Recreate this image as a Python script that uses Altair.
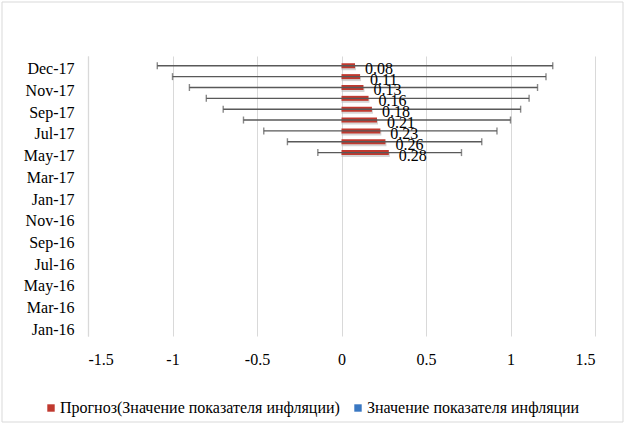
import json
import altair as alt
import pandas as pd

# ---- data ----
all_months = ["Jan-16", "Feb-16", "Mar-16", "Apr-16", "May-16", "Jun-16", "Jul-16", "Aug-16",
              "Sep-16", "Oct-16", "Nov-16", "Dec-16", "Jan-17", "Feb-17", "Mar-17", "Apr-17",
              "May-17", "Jun-17", "Jul-17", "Aug-17", "Sep-17", "Oct-17", "Nov-17", "Dec-17"]
bar_months = ["Dec-17", "Nov-17", "Oct-17", "Sep-17", "Aug-17", "Jul-17", "Jun-17", "May-17", "Apr-17"]
forecast = [0.08, 0.11, 0.13, 0.16, 0.18, 0.21, 0.23, 0.26, 0.28]
err_low = [-1.09, -1.00, -0.90, -0.80, -0.70, -0.58, -0.46, -0.32, -0.14]
err_high = [1.25, 1.21, 1.16, 1.11, 1.06, 1.00, 0.92, 0.83, 0.71]
y_tick_labels = ["Jan-16", "Mar-16", "May-16", "Jul-16", "Sep-16", "Nov-16", "Jan-17",
                 "Mar-17", "May-17", "Jul-17", "Sep-17", "Nov-17", "Dec-17"]
x_ticks = [-1.5, -1, -0.5, 0, 0.5, 1, 1.5]
series = ["Прогноз(Значение показателя инфляции)", "Значение показателя инфляции"]
series_colors = ["#C0392F", "#3A78C2"]

df = pd.DataFrame({
    "month": bar_months,
    "m": [all_months.index(m) for m in bar_months],
    "value": forecast,
    "low": err_low,
    "high": err_high,
    "series": series[0],
    "label": [f"{v:.2f}" for v in forecast],
})

FONT = "Times New Roman, Liberation Serif, serif"
FS = 16
tick_vals = [2 * i - 1 for i in range(len(y_tick_labels))]
label_expr = json.dumps(y_tick_labels) + "[(datum.value + 1) / 2]"

x_scale = alt.Scale(domain=[-1.5, 1.5], nice=False)
y_scale = alt.Scale(domain=[-1.44, 23.44], nice=False, zero=False)

x_axis = alt.Axis(values=x_ticks, grid=True, gridColor="#D9D9D9",
                  domain=False, ticks=False, labelPadding=15, labelFont=FONT,
                  labelFontSize=FS, labelColor="#000000", labelExpr="'' + datum.value",
                  labelOverlap=False, title=None)
y_axis = alt.Axis(values=tick_vals, labelExpr=label_expr, grid=False, ticks=False,
                  domain=True, domainColor="#D9D9D9", domainWidth=1.3,
                  labelPadding=14, labelFont=FONT, labelFontSize=FS,
                  labelColor="#000000", labelOffset=3, labelOverlap=False, title=None)


def X(field):
    return alt.X(field, type="quantitative", scale=x_scale, axis=x_axis, title=None)


def Y(field):
    return alt.Y(field, type="quantitative", scale=y_scale, axis=y_axis, title=None)


base = alt.Chart(df)

shadow = base.mark_bar(size=5, color="#BBBBBB", opacity=0.6, xOffset=1, yOffset=2).encode(
    x=X("value"), x2=alt.datum(0), y=Y("m"))

bars = base.mark_bar(size=5).encode(
    x=X("value"), x2=alt.datum(0), y=Y("m"),
    color=alt.Color("series:N", scale=alt.Scale(domain=series, range=series_colors),
                    legend=alt.Legend(title=None, orient="none", direction="horizontal",
                                      legendX=-45, legendY=344, symbolType="square",
                                      symbolSize=55, symbolStrokeWidth=0,
                                      labelFont=FONT, labelFontSize=FS, labelColor="#000000",
                                      labelLimit=400, columnPadding=10, symbolOffset=0,
                                      labelOffset=1)))

err_line = base.mark_rule(color="#595959", strokeWidth=1.4).encode(
    x=X("low"), x2="high:Q", y=Y("m"))
cap_lo = base.mark_tick(orient="vertical", color="#595959", size=7, thickness=1.4).encode(
    x=X("low"), y=Y("m"))
cap_hi = base.mark_tick(orient="vertical", color="#595959", size=7, thickness=1.4).encode(
    x=X("high"), y=Y("m"))

labels = base.mark_text(align="left", baseline="middle", dx=10, dy=3, font=FONT, fontSize=FS,
                        color="#000000").encode(
    x=X("value"), y=Y("m"), text="label:N")

border = alt.Chart(pd.DataFrame({"a": [0]})).mark_rect(
    fill=None, stroke="#D9D9D9", strokeWidth=1).encode(
    x=alt.value(-86), x2=alt.value(535), y=alt.value(-54), y2=alt.value(366))

chart = alt.layer(shadow, bars, err_line, cap_lo, cap_hi, labels, border).properties(
    width=507, height=280,
    autosize=alt.AutoSizeParams(type="none"),
    padding={"left": 88, "top": 56, "right": 31, "bottom": 88},
    background="#FFFFFF",
).configure_view(stroke=None).configure_axis(
    labelFont=FONT, labelFontSize=FS, labelColor="#000000"
).configure_legend(labelFont=FONT, labelFontSize=FS, labelColor="#000000")

chart.save("out.html", embed_options={"renderer": "svg", "actions": False})
